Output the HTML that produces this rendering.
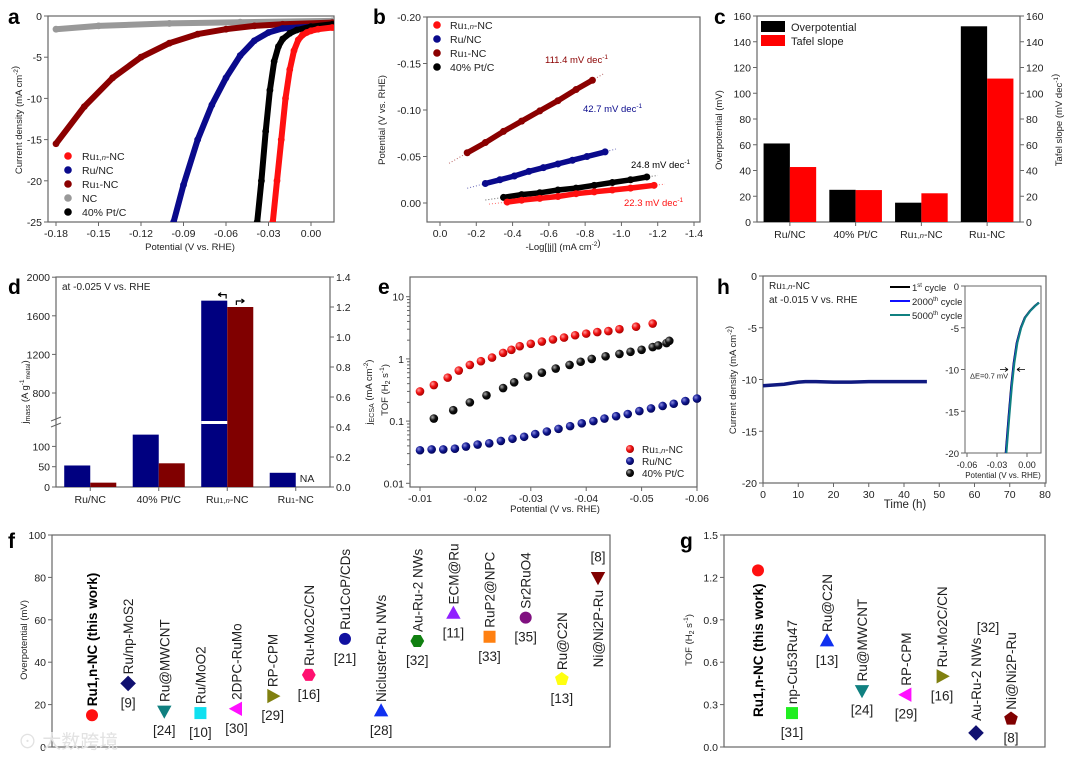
<!DOCTYPE html>
<html><head><meta charset="utf-8"><title>HER figure</title>
<style>
html,body{margin:0;padding:0;background:#fff;}
svg{display:block;font-family:"Liberation Sans","Noto Sans CJK SC",sans-serif;}
</style></head>
<body>
<svg id="fig" width="1080" height="757" viewBox="0 0 1080 757" xmlns="http://www.w3.org/2000/svg">
<defs>
<radialGradient id="gRed" cx="0.35" cy="0.35" r="0.7"><stop offset="0" stop-color="#ff9a9a"/><stop offset="0.5" stop-color="#f01010"/><stop offset="1" stop-color="#a00000"/></radialGradient>
<radialGradient id="gBlue" cx="0.35" cy="0.35" r="0.7"><stop offset="0" stop-color="#8a8ae0"/><stop offset="0.5" stop-color="#101890"/><stop offset="1" stop-color="#000050"/></radialGradient>
<radialGradient id="gBlack" cx="0.35" cy="0.35" r="0.7"><stop offset="0" stop-color="#aaaaaa"/><stop offset="0.5" stop-color="#111"/><stop offset="1" stop-color="#000"/></radialGradient>
</defs>
<rect x="0" y="0" width="1080" height="757" fill="#fff"/>
</svg>
<script>
// ---------- Panel a data ----------
const aRu1nE=[-0.027,-0.024,-0.021,-0.018,-0.015,-0.012,-0.009,-0.006,-0.003,0.0,0.005,0.015];
const aRu1nJ=[-25,-20,-15,-10,-6.5,-4.2,-2.9,-2.3,-2.0,-1.8,-1.6,-1.4];
const aPtE=[-0.038,-0.035,-0.032,-0.029,-0.026,-0.023,-0.02,-0.015,-0.01,0.0,0.015];
const aPtJ=[-25,-20,-14,-9,-5.5,-3.7,-2.8,-2.1,-1.7,-1.3,-1.0];
const aRuNCE=[-0.097,-0.09,-0.08,-0.07,-0.06,-0.05,-0.04,-0.03,-0.02,0.0,0.015];
const aRuNCJ=[-25,-20.5,-15,-10.8,-7.5,-4.8,-3.0,-2.0,-1.5,-1.3,-1.2];
const aRu1E=[-0.18,-0.16,-0.14,-0.12,-0.10,-0.08,-0.06,-0.04,-0.02,0.015];
const aRu1J=[-15.5,-11,-7.5,-5,-3.3,-2.2,-1.6,-1.2,-1.0,-0.8];
const aNCE=[-0.18,-0.15,-0.10,-0.05,0.015];
const aNCJ=[-1.6,-1.2,-0.9,-0.75,-0.6];
const aXTicks=[-0.18,-0.15,-0.12,-0.09,-0.06,-0.03,0.0];
const aXLabels=["-0.18","-0.15","-0.12","-0.09","-0.06","-0.03","0.00"];
const aYTicks=[0,-5,-10,-15,-20,-25];
const aYLabels=["0","-5","-10","-15","-20","-25"];
// ---------- Panel b data ----------
const bRu1nX=[-0.37,-0.45,-0.55,-0.65,-0.75,-0.85,-0.95,-1.05,-1.18];
const bRu1nY=[-0.001,-0.003,-0.005,-0.007,-0.010,-0.012,-0.014,-0.016,-0.019];
const bPtX=[-0.35,-0.45,-0.55,-0.65,-0.75,-0.85,-0.95,-1.05,-1.14];
const bPtY=[-0.006,-0.009,-0.011,-0.014,-0.016,-0.019,-0.022,-0.025,-0.028];
const bRuNCX=[-0.25,-0.33,-0.41,-0.49,-0.57,-0.65,-0.73,-0.81,-0.91];
const bRuNCY=[-0.021,-0.025,-0.029,-0.034,-0.038,-0.042,-0.046,-0.050,-0.055];
const bRu1X=[-0.15,-0.25,-0.35,-0.45,-0.55,-0.65,-0.75,-0.84];
const bRu1Y=[-0.054,-0.065,-0.077,-0.088,-0.099,-0.110,-0.122,-0.132];
const bXTicks=[0,-0.2,-0.4,-0.6,-0.8,-1.0,-1.2,-1.4];
const bXLabels=["0.0","-0.2","-0.4","-0.6","-0.8","-1.0","-1.2","-1.4"];
const bYTicks=[-0.20,-0.15,-0.10,-0.05,0.0];
const bYLabels=["-0.20","-0.15","-0.10","-0.05","0.00"];
// ---------- Panel c data ----------
const cCats=["Ru/NC","40% Pt/C","Ru1,n-NC","Ru1-NC"];
const cOverpotential=[61,25,15,152];
const cTafel=[42.7,24.8,22.3,111.4];
const cYTicks=[0,20,40,60,80,100,120,140,160];
// ---------- Panel d data ----------
const dCats=["Ru/NC","40% Pt/C","Ru1,n-NC","Ru1-NC"];
const dMass=[53,129,1757,35];
const dEcsa=[0.029,0.158,1.2,null];
const dLowTicks=[0,50,100];
const dHighTicks=[800,1200,1600,2000];
const dRightTicks=[0,0.2,0.4,0.6,0.8,1.0,1.2,1.4];
const dRightLabels=["0.0","0.2","0.4","0.6","0.8","1.0","1.2","1.4"];
// ---------- Panel e data ----------
const eRu1nX=[-0.0100,-0.0125,-0.0150,-0.0170,-0.0190,-0.0210,-0.0230,-0.0250,-0.0265,-0.0280,-0.0300,-0.0320,-0.0340,-0.0360,-0.0380,-0.0400,-0.0420,-0.0440,-0.0460,-0.0490,-0.0520];
const eRu1nY=[0.3,0.38,0.5,0.65,0.8,0.92,1.05,1.25,1.4,1.6,1.75,1.9,2.05,2.2,2.4,2.55,2.7,2.8,3.0,3.3,3.7];
const ePtX=[-0.0125,-0.016,-0.019,-0.022,-0.025,-0.027,-0.0295,-0.032,-0.0345,-0.037,-0.039,-0.041,-0.0435,-0.046,-0.048,-0.050,-0.052,-0.053,-0.0545,-0.055];
const ePtY=[0.11,0.15,0.2,0.26,0.34,0.42,0.52,0.6,0.7,0.8,0.9,1.0,1.1,1.2,1.3,1.4,1.55,1.65,1.8,1.95];
const eRuNCX=[-0.0100,-0.0121,-0.0142,-0.0163,-0.0183,-0.0204,-0.0225,-0.0246,-0.0267,-0.0288,-0.0308,-0.0329,-0.0350,-0.0371,-0.0392,-0.0413,-0.0433,-0.0454,-0.0475,-0.0496,-0.0517,-0.0538,-0.0558,-0.0579,-0.0600];
const eRuNCY=[0.034,0.035,0.035,0.036,0.039,0.042,0.044,0.048,0.052,0.056,0.062,0.068,0.075,0.083,0.092,0.1,0.11,0.12,0.13,0.145,0.16,0.175,0.19,0.21,0.23];
const eXTicks=[-0.01,-0.02,-0.03,-0.04,-0.05,-0.06];
const eXLabels=["-0.01","-0.02","-0.03","-0.04","-0.05","-0.06"];
const eYTicks=[0.01,0.1,1,10];
const eYLabels=["0.01","0.1","1","10"];
// ---------- Panel h data ----------
const hTime=[0,2,4,6,8,10,12,15,20,25,30,35,40,46.5];
const hJ=[-10.6,-10.55,-10.5,-10.45,-10.35,-10.25,-10.2,-10.2,-10.25,-10.25,-10.2,-10.2,-10.2,-10.2];
const hXTicks=[0,10,20,30,40,50,60,70,80];
const hYTicks=[0,-5,-10,-15,-20];
const insE1=[-0.0213,-0.0183,-0.0158,-0.0133,-0.0103,-0.0063,-0.0023,0.0027,0.0077,0.0117];
const insE2=[-0.0210,-0.0180,-0.0155,-0.0130,-0.0100,-0.0060,-0.0020,0.0030,0.0080,0.0120];
const insE3=[-0.0206,-0.0176,-0.0151,-0.0126,-0.0096,-0.0058,-0.0018,0.0031,0.0081,0.0121];
const insJ=[-20,-15.5,-12,-9.2,-6.8,-5,-3.8,-3,-2.4,-2];
const insXTicks=[-0.06,-0.03,0.0];
const insXLabels=["-0.06","-0.03","0.00"];
const insYTicks=[0,-5,-10,-15,-20];
// ---------- Panel f data ----------
const fNames=["Ru1,n-NC (this work)","Ru/np-MoS2","Ru@MWCNT","Ru/MoO2","2DPC-RuMo","RP-CPM","Ru-Mo2C/CN","Ru1CoP/CDs","Nicluster-Ru NWs","Au-Ru-2 NWs","ECM@Ru","RuP2@NPC","Sr2RuO4","Ru@C2N","Ni@Ni2P-Ru"];
const fRefs=["","[9]","[24]","[10]","[30]","[29]","[16]","[21]","[28]","[32]","[11]","[33]","[35]","[13]","[8]"];
const fValues=[15,30,17,16,18,24,34,51,17,50,63,52,61,32,80];
const fShapes=["circle","diamond","down","square","left","right","hexagon","circle","up","hexagon","up","square","circle","pentagon","down"];
const fColors=["#ff1010","#101070","#108080","#10e0f0","#ff10ff","#808010","#ff1070","#1010a0","#1030f0","#108010","#9020ff","#ff8010","#801080","#ffff10","#800000"];
const fYTicks=[0,20,40,60,80,100];
// ---------- Panel g data ----------
const gNames=["Ru1,n-NC (this work)","np-Cu53Ru47","Ru@C2N","Ru@MWCNT","RP-CPM","Ru-Mo2C/CN","Au-Ru-2 NWs","Ni@Ni2P-Ru"];
const gRefs=["","[31]","[13]","[24]","[29]","[16]","[32]","[8]"];
const gValues=[1.25,0.24,0.75,0.40,0.37,0.50,0.10,0.20];
const gShapes=["circle","square","up","down","left","right","diamond","pentagon"];
const gColors=["#ff1010","#20ee20","#1030f0","#108080","#ff10ff","#808010","#101070","#800000"];
const gYTicks=[0,0.3,0.6,0.9,1.2,1.5];
const gYLabels=["0.0","0.3","0.6","0.9","1.2","1.5"];

// ---------- helpers ----------
const NS="http://www.w3.org/2000/svg";
const svg=document.getElementById("fig");
function mk(tag,attrs,name,parent){
  const e=document.createElementNS(NS,tag);
  for(const k in attrs) e.setAttribute(k,attrs[k]);
  
  
  (parent||svg).appendChild(e);
  return e;
}
function lin(d0,d1,r0,r1){return v=>r0+(v-d0)/(d1-d0)*(r1-r0);}
function txt(x,y,html,size,name,opts){
  opts=opts||{};
  const a={x:x,y:y,"font-size":size,fill:opts.fill||"#222","text-anchor":opts.anchor||"start"};
  if(opts.weight) a["font-weight"]=opts.weight;
  if(opts.rot!==undefined) a.transform="rotate("+opts.rot+" "+x+" "+y+")";
  const t=mk("text",a,name);
  t.innerHTML=html;
  return t;
}
function frame(x0,y0,x1,y1,name){
  mk("rect",{x:x0,y:y0,width:x1-x0,height:y1-y0,fill:"none",stroke:"#666","stroke-width":1.2},name);
}
function ticksBottom(vals,labels,sc,y,name,size){
  vals.forEach((v,i)=>{
    const x=sc(v);
    mk("line",{x1:x,y1:y,x2:x,y2:y+4,stroke:"#666","stroke-width":1},name+"-tick");
    txt(x,y+15,labels[i],size||10.5,name+"-label",{anchor:"middle"});
  });
}
function ticksLeft(vals,labels,sc,x,name,size){
  vals.forEach((v,i)=>{
    const y=sc(v);
    mk("line",{x1:x-4,y1:y,x2:x,y2:y,stroke:"#666","stroke-width":1},name+"-tick");
    txt(x-6,y+4,labels[i],size||10.5,name+"-label",{anchor:"end"});
  });
}
function ticksRight(vals,labels,sc,x,name,size){
  vals.forEach((v,i)=>{
    const y=sc(v);
    mk("line",{x1:x,y1:y,x2:x+4,y2:y,stroke:"#666","stroke-width":1},name+"-tick");
    txt(x+6,y+4,labels[i],size||10.5,name+"-label",{anchor:"start"});
  });
}
function letter(x,y,s){txt(x,y,s,21,"panel-letter-"+s,{weight:"bold",fill:"#000"});}
const RU1N='Ru<tspan font-size="7.5">1,<tspan font-style="italic">n</tspan></tspan>-NC';
const RU1='Ru<tspan font-size="7.5">1</tspan>-NC';
function marker(shape,x,y,s,color,name){
  let m;
  if(shape==="circle") m=mk("circle",{cx:x,cy:y,r:s,fill:color},name);
  else if(shape==="square") m=mk("rect",{x:x-s,y:y-s,width:2*s,height:2*s,fill:color},name);
  else {
    let pts=[];
    if(shape==="diamond") pts=[[0,-1.3],[1.3,0],[0,1.3],[-1.3,0]];
    if(shape==="up") pts=[[0,-1.3],[1.2,0.9],[-1.2,0.9]];
    if(shape==="down") pts=[[0,1.3],[1.2,-0.9],[-1.2,-0.9]];
    if(shape==="left") pts=[[-1.3,0],[0.9,-1.2],[0.9,1.2]];
    if(shape==="right") pts=[[1.3,0],[-0.9,-1.2],[-0.9,1.2]];
    if(shape==="hexagon") for(let k=0;k<6;k++){const a=Math.PI/3*k;pts.push([Math.cos(a)*1.15,Math.sin(a)*1.15]);}
    if(shape==="pentagon") for(let k=0;k<5;k++){const a=-Math.PI/2+2*Math.PI/5*k;pts.push([Math.cos(a)*1.2,Math.sin(a)*1.2]);}
    m=mk("polygon",{points:pts.map(p=>(x+p[0]*s).toFixed(1)+","+(y+p[1]*s).toFixed(1)).join(" "),fill:color},name);
  }
  return m;
}

// ================= Panel a =================
(function(){
  const X=lin(-0.18,0,56,311), Y=lin(0,-25,16,222);
  letter(8,24,"a");
  frame(48,16,334,222,"panel-a-frame");
  ticksBottom(aXTicks,aXLabels,X,222,"panel-a-x-tick");
  ticksLeft(aYTicks,aYLabels,Y,48,"panel-a-y-tick");
  txt(190,250,"Potential (V vs. RHE)",9.5,"panel-a-x-axis-title",{anchor:"middle"});
  txt(22,120,'Current density (mA cm<tspan dy="-4" font-size="6.5">-2</tspan>)',9.5,"panel-a-y-axis-title",{anchor:"middle",rot:-90});
  const series=[[aNCE,aNCJ,"#999999","nc"],[aRu1E,aRu1J,"#8b0000","ru1-nc"],[aRuNCE,aRuNCJ,"#0a0a8c","ru-nc"],[aPtE,aPtJ,"#000000","pt-c"],[aRu1nE,aRu1nJ,"#ff1010","ru1n-nc"]];
  const clip=mk("clipPath",{id:"clipA"},"panel-a-clip");
  mk("rect",{x:48,y:16,width:286,height:206},"panel-a-clip-rect",clip);
  series.forEach(s=>{
    const pts=s[0].map((e,i)=>X(e).toFixed(1)+","+Y(s[1][i]).toFixed(1)).join(" ");
    const l=mk("polyline",{points:pts,fill:"none",stroke:s[2],"stroke-width":6,"stroke-linejoin":"round","stroke-linecap":"round","clip-path":"url(#clipA)"},"panel-a-curve-"+s[3]);
    
    s[0].forEach((e,i)=>{
      const c=mk("circle",{cx:X(e),cy:Y(s[1][i]),r:3.4,fill:s[2],"clip-path":"url(#clipA)"},"panel-a-point");
      
    });
  });
  const leg=[[RU1N,"#ff1010"],["Ru/NC","#0a0a8c"],[RU1,"#8b0000"],["NC","#999999"],["40% Pt/C","#000"]];
  leg.forEach((l,i)=>{
    const y=156+i*14;
    mk("circle",{cx:68,cy:y,r:3.8,fill:l[1]},"panel-a-legend-marker");
    txt(82,y+4,l[0],10.5,"panel-a-legend-entry");
  });
})();

// ================= Panel b =================
(function(){
  const X=lin(0,-1.4,440,694), Y=lin(-0.2,0,17,203);
  letter(373,24,"b");
  frame(427,17,700,222,"panel-b-frame");
  ticksBottom(bXTicks,bXLabels,X,222,"panel-b-x-tick");
  ticksLeft(bYTicks,bYLabels,Y,427,"panel-b-y-tick");
  txt(563,250,'-Log[|j|] (mA cm<tspan dy="-4" font-size="6.5">-2</tspan>)',9.5,"panel-b-x-axis-title",{anchor:"middle"});
  txt(385,120,"Potential (V vs. RHE)",9.5,"panel-b-y-axis-title",{anchor:"middle",rot:-90});
  const series=[[bRu1X,bRu1Y,"#8b0000","ru1-nc"],[bRuNCX,bRuNCY,"#0a0a8c","ru-nc"],[bPtX,bPtY,"#000","pt-c"],[bRu1nX,bRu1nY,"#ff1010","ru1n-nc"]];
  series.forEach(s=>{
    const n=s[0].length;
    const sl=(s[1][n-1]-s[1][0])/(s[0][n-1]-s[0][0]);
    const xa=s[0][0]+0.1, xb=s[0][n-1]-0.06;
    mk("line",{x1:X(xa),y1:Y(s[1][0]+sl*0.1),x2:X(xb),y2:Y(s[1][n-1]-sl*0.06),stroke:s[2],"stroke-width":1,"stroke-dasharray":"1 2",opacity:0.6},"panel-b-fit-line-"+s[3]);
    const pts=s[0].map((x,i)=>X(x).toFixed(1)+","+Y(s[1][i]).toFixed(1)).join(" ");
    mk("polyline",{points:pts,fill:"none",stroke:s[2],"stroke-width":5.5,"stroke-linecap":"round"},"panel-b-series-"+s[3]);
    s[0].forEach((x,i)=>{
      const c=mk("circle",{cx:X(x),cy:Y(s[1][i]),r:3.5,fill:s[2]},"panel-b-point");
      
    });
  });
  txt(545,63,'111.4 mV dec<tspan dy="-4" font-size="6.5">-1</tspan>',9.5,"panel-b-slope-ru1",{fill:"#8b0000"});
  txt(583,112,'42.7 mV dec<tspan dy="-4" font-size="6.5">-1</tspan>',9.5,"panel-b-slope-runc",{fill:"#0a0a8c"});
  txt(631,168,'24.8 mV dec<tspan dy="-4" font-size="6.5">-1</tspan>',9.5,"panel-b-slope-pt",{fill:"#000"});
  txt(624,206,'22.3 mV dec<tspan dy="-4" font-size="6.5">-1</tspan>',9.5,"panel-b-slope-ru1n",{fill:"#ff1010"});
  const leg=[[RU1N,"#ff1010"],["Ru/NC","#0a0a8c"],[RU1,"#8b0000"],["40% Pt/C","#000"]];
  leg.forEach((l,i)=>{
    const y=25+i*14;
    mk("circle",{cx:437,cy:y,r:3.8,fill:l[1]},"panel-b-legend-marker");
    txt(450,y+4,l[0],10.5,"panel-b-legend-entry");
  });
})();

// ================= Panel c =================
(function(){
  const x0=757,x1=1020,Y=lin(0,160,222,16);
  letter(714,24,"c");
  frame(x0,16,x1,222,"panel-c-frame");
  ticksLeft(cYTicks,cYTicks.map(String),Y,x0,"panel-c-left-tick");
  ticksRight(cYTicks,cYTicks.map(String),Y,x1,"panel-c-right-tick");
  txt(722,130,"Overpotential (mV)",9.5,"panel-c-left-axis-title",{anchor:"middle",rot:-90});
  txt(1062,120,'Tafel slope (mV dec<tspan dy="-4" font-size="6.5">-1</tspan>)',9.5,"panel-c-right-axis-title",{anchor:"middle",rot:-90});
  const sp=(x1-x0)/cCats.length, bw=sp*0.4;
  const labs=["Ru/NC","40% Pt/C",RU1N,RU1];
  cCats.forEach((c,i)=>{
    const cx=x0+sp*(i+0.5);
    const b1=mk("rect",{x:cx-bw,y:Y(cOverpotential[i]),width:bw,height:222-Y(cOverpotential[i]),fill:"#000"},"panel-c-bar");
    
    const b2=mk("rect",{x:cx,y:Y(cTafel[i]),width:bw,height:222-Y(cTafel[i]),fill:"#ff0000"},"panel-c-bar");
    
    mk("line",{x1:cx,y1:222,x2:cx,y2:226,stroke:"#666"},"panel-c-x-tick");
    txt(cx,238,labs[i],10.5,"panel-c-category-label",{anchor:"middle"});
  });
  mk("rect",{x:761,y:21,width:24,height:11,fill:"#000"},"panel-c-legend-swatch-overpotential");
  txt(791,31,"Overpotential",11,"panel-c-legend-overpotential");
  mk("rect",{x:761,y:35,width:24,height:11,fill:"#ff0000"},"panel-c-legend-swatch-tafel");
  txt(791,45,"Tafel slope",11,"panel-c-legend-tafel");
})();

// ================= Panel d =================
(function(){
  const x0=56,x1=330,yb=487;
  const low=lin(0,50,487,466.7), high=lin(800,1200,393,354.4), R=lin(0,1.4,487,277);
  const dM=v=>v<=160?low(v):high(v);
  letter(8,294,"d");
  frame(x0,277,x1,487,"panel-d-frame");
  txt(62,290,"at -0.025 V vs. RHE",10,"panel-d-condition-note");
  ticksLeft(dLowTicks,dLowTicks.map(String),low,x0,"panel-d-left-tick");
  ticksLeft(dHighTicks,dHighTicks.map(String),high,x0,"panel-d-left-tick");
  ticksRight(dRightTicks,dRightLabels,R,x1,"panel-d-right-tick");
  mk("line",{x1:x0-5,y1:421,x2:x0+5,y2:417,stroke:"#666"},"panel-d-axis-break");
  mk("line",{x1:x0-5,y1:427,x2:x0+5,y2:423,stroke:"#666"},"panel-d-axis-break");
  txt(28,392,'j<tspan font-size="7" dy="2">mass</tspan><tspan dy="-2"> (A g</tspan><tspan dy="-4" font-size="6.5">-1</tspan><tspan dy="6" font-size="6.5">metal</tspan><tspan dy="-2">)</tspan>',9.5,"panel-d-left-axis-title",{anchor:"middle",rot:-90});
  txt(372,392,'j<tspan font-size="7" dy="2">ECSA</tspan><tspan dy="-2"> (mA cm</tspan><tspan dy="-4" font-size="6.5">-2</tspan><tspan dy="4">)</tspan>',9.5,"panel-d-right-axis-title",{anchor:"middle",rot:-90});
  const sp=(x1-x0)/dCats.length, bw=sp*0.38;
  const labs=["Ru/NC","40% Pt/C",RU1N,RU1];
  dCats.forEach((c,i)=>{
    const cx=x0+sp*(i+0.5);
    const b1=mk("rect",{x:cx-bw,y:dM(dMass[i]),width:bw,height:yb-dM(dMass[i]),fill:"#000080"},"panel-d-bar");
    
    if(dEcsa[i]!==null){
      const b2=mk("rect",{x:cx,y:R(dEcsa[i]),width:bw,height:yb-R(dEcsa[i]),fill:"#800000"},"panel-d-bar");
      
    } else {
      txt(cx+4,482,"NA",10.5,"panel-d-na-label");
    }
    if(dMass[i]>160) mk("rect",{x:cx-bw,y:421,width:bw,height:3,fill:"#fff"},"panel-d-bar-break");
    mk("line",{x1:cx,y1:487,x2:cx,y2:491,stroke:"#666"},"panel-d-x-tick");
    txt(cx,503,labs[i],10.5,"panel-d-category-label",{anchor:"middle"});
    if(dMass[i]>160){
      const ty=dM(dMass[i])-6;
      mk("path",{d:"M"+(cx-bw*0.35)+" "+ty+" h8 v4 M"+(cx-bw*0.35)+" "+ty+" l3 -2 M"+(cx-bw*0.35)+" "+ty+" l3 2",stroke:"#000",fill:"none","stroke-width":1.2},"panel-d-left-arrow");
      const ry=R(dEcsa[i])-6;
      mk("path",{d:"M"+(cx+bw*0.35)+" "+(ry+4)+" v-4 h8 M"+(cx+bw*0.35+8)+" "+ry+" l-3 -2 M"+(cx+bw*0.35+8)+" "+ry+" l-3 2",stroke:"#000",fill:"none","stroke-width":1.2},"panel-d-right-arrow");
    }
  });
})();

// ================= Panel e =================
(function(){
  const X=lin(-0.01,-0.06,420,697);
  const Y=v=>483.3-(Math.log10(v)+2)*62.2;
  letter(378,294,"e");
  frame(410,277,697,487,"panel-e-frame");
  ticksBottom(eXTicks,eXLabels,X,487,"panel-e-x-tick");
  ticksLeft(eYTicks,eYLabels,Y,410,"panel-e-y-tick");
  [2,3,4,5,6,7,8,9].forEach(m=>{[0.01,0.1,1].forEach(d=>{
    const y=Y(m*d); if(y>277) mk("line",{x1:410,y1:y,x2:407,y2:y,stroke:"#666"},"panel-e-minor-tick");
  });});
  txt(555,512,"Potential (V vs. RHE)",9.5,"panel-e-x-axis-title",{anchor:"middle"});
  txt(388,390,'TOF (H<tspan font-size="7" dy="2">2</tspan><tspan dy="-2"> s</tspan><tspan dy="-4" font-size="6.5">-1</tspan><tspan dy="4">)</tspan>',9.5,"panel-e-y-axis-title",{anchor:"middle",rot:-90});
  const series=[[eRuNCX,eRuNCY,"url(#gBlue)","ru-nc"],[ePtX,ePtY,"url(#gBlack)","pt-c"],[eRu1nX,eRu1nY,"url(#gRed)","ru1n-nc"]];
  series.forEach(s=>{
    s[0].forEach((x,i)=>{
      const c=mk("circle",{cx:X(x),cy:Y(s[1][i]),r:4.3,fill:s[2]},"panel-e-point");
      
    });
  });
  const leg=[[RU1N,"url(#gRed)"],["Ru/NC","url(#gBlue)"],["40% Pt/C","url(#gBlack)"]];
  leg.forEach((l,i)=>{
    const y=449+i*12;
    mk("circle",{cx:630,cy:y,r:4,fill:l[1]},"panel-e-legend-marker");
    txt(642,y+4,l[0],10,"panel-e-legend-entry");
  });
})();

// ================= Panel h =================
(function(){
  const X=lin(0,80,763,1045), Y=lin(0,-20,276,483);
  letter(717,294,"h");
  frame(763,276,1046,483,"panel-h-frame");
  ticksBottom(hXTicks,hXTicks.map(String),X,483,"panel-h-x-tick");
  ticksLeft(hYTicks,hYTicks.map(String),Y,763,"panel-h-y-tick");
  txt(905,508,"Time (h)",11.5,"panel-h-x-axis-title",{anchor:"middle"});
  txt(736,380,'Current density (mA cm<tspan dy="-4" font-size="6.5">-2</tspan>)',9.5,"panel-h-y-axis-title",{anchor:"middle",rot:-90});
  txt(769,289,RU1N,10,"panel-h-sample-label");
  txt(769,303,"at -0.015 V vs. RHE",10,"panel-h-condition-label");
  const pts=hTime.map((t,i)=>X(t).toFixed(1)+","+Y(hJ[i]).toFixed(1)).join(" ");
  mk("polyline",{points:pts,fill:"none",stroke:"#101a80","stroke-width":3.5},"panel-h-stability-line");
  const leg=[['1<tspan dy="-4" font-size="6">st</tspan><tspan dy="4"> cycle</tspan>',"#000"],['2000<tspan dy="-4" font-size="6">th</tspan><tspan dy="4"> cycle</tspan>',"#1010ff"],['5000<tspan dy="-4" font-size="6">th</tspan><tspan dy="4"> cycle</tspan>',"#108080"]];
  leg.forEach((l,i)=>{
    const y=287+i*14;
    mk("line",{x1:890,y1:y,x2:910,y2:y,stroke:l[1],"stroke-width":2},"panel-h-legend-line");
    txt(912,y+4,l[0],9.5,"panel-h-legend-entry");
  });
  const IX=lin(-0.06,0,967,1027), IY=lin(0,-20,286,453);
  mk("rect",{x:965,y:286,width:76,height:167,fill:"#fff",stroke:"#666","stroke-width":1},"panel-h-inset-frame");
  ticksBottom(insXTicks,insXLabels,IX,453,"panel-h-inset-x-tick",9);
  ticksLeft(insYTicks,insYTicks.map(String),IY,965,"panel-h-inset-y-tick",9.5);
  txt(1003,478,"Potential (V vs. RHE)",8,"panel-h-inset-x-axis-title",{anchor:"middle"});
  [[insE1,"#000"],[insE2,"#1010ff"],[insE3,"#108080"]].forEach((s,k)=>{
    const p=s[0].map((e,i)=>IX(e).toFixed(1)+","+IY(insJ[i]).toFixed(1)).join(" ");
    const l=mk("polyline",{points:p,fill:"none",stroke:s[1],"stroke-width":2},"panel-h-inset-curve");
    
  });
  const ay=IY(-10);
  mk("path",{d:"M1000 "+ay+" h8 M1008 "+ay+" l-3 -2 M1008 "+ay+" l-3 2 M1025 "+ay+" h-8 M1017 "+ay+" l3 -2 M1017 "+ay+" l3 2",stroke:"#000",fill:"none","stroke-width":0.8},"panel-h-delta-arrows");
  txt(970,ay+9,"ΔE=0.7 mV",7.5,"panel-h-delta-label");
})();

// ================= Panel f =================
(function(){
  const Y=lin(0,100,747,535);
  letter(8,548,"f");
  frame(52,535,610,747,"panel-f-frame");
  ticksLeft(fYTicks,fYTicks.map(String),Y,52,"panel-f-y-tick");
  txt(27,640,"Overpotential (mV)",9.5,"panel-f-y-axis-title",{anchor:"middle",rot:-90});
  fValues.forEach((v,i)=>{
    const x=92+i*36.14, y=Y(v);
    const m=marker(fShapes[i],x,y,6,fColors[i],"panel-f-marker");
    
    const bold=(i===0);
    if(i===14){
      txt(x+5,y+90,fNames[i],13.5,"panel-f-catalyst-label",{rot:-90});
      txt(x,y-16,fRefs[i],13.5,"panel-f-reference",{anchor:"middle"});
    } else {
      txt(x+5,y-9,fNames[i],13.5,"panel-f-catalyst-label",{rot:-90,weight:bold?"bold":null,fill:bold?"#000":"#222"});
      if(fRefs[i]) txt(x,y+24,fRefs[i],13.5,"panel-f-reference",{anchor:"middle"});
    }
  });
  txt(18,748,"⊙ 大数跨境",19,"watermark",{fill:"#e2e2e2"});
})();

// ================= Panel g =================
(function(){
  const Y=lin(0,1.5,747,535);
  letter(680,548,"g");
  frame(724,535,1045,747,"panel-g-frame");
  ticksLeft(gYTicks,gYLabels,Y,724,"panel-g-y-tick");
  txt(692,640,'TOF (H<tspan font-size="7" dy="2">2</tspan><tspan dy="-2"> s</tspan><tspan dy="-4" font-size="6.5">-1</tspan><tspan dy="4">)</tspan>',9.5,"panel-g-y-axis-title",{anchor:"middle",rot:-90});
  const gx=[758,792,827,862,906,942,976,1011];
  gValues.forEach((v,i)=>{
    const x=gx[i], y=Y(v);
    const m=marker(gShapes[i],x,y,6,gColors[i],"panel-g-marker");
    
    if(i===0){
      txt(x+5,717,gNames[i],13.5,"panel-g-catalyst-label",{rot:-90,weight:"bold",fill:"#000"});
    } else if(i===6){
      txt(x+5,y-12,gNames[i],13.5,"panel-g-catalyst-label",{rot:-90});
      txt(x+12,632,gRefs[i],13.5,"panel-g-reference",{anchor:"middle"});
    } else {
      txt(x+5,y-9,gNames[i],13.5,"panel-g-catalyst-label",{rot:-90});
      txt(x,y+24,gRefs[i],13.5,"panel-g-reference",{anchor:"middle"});
    }
  });
})();
</script>
</body></html>
